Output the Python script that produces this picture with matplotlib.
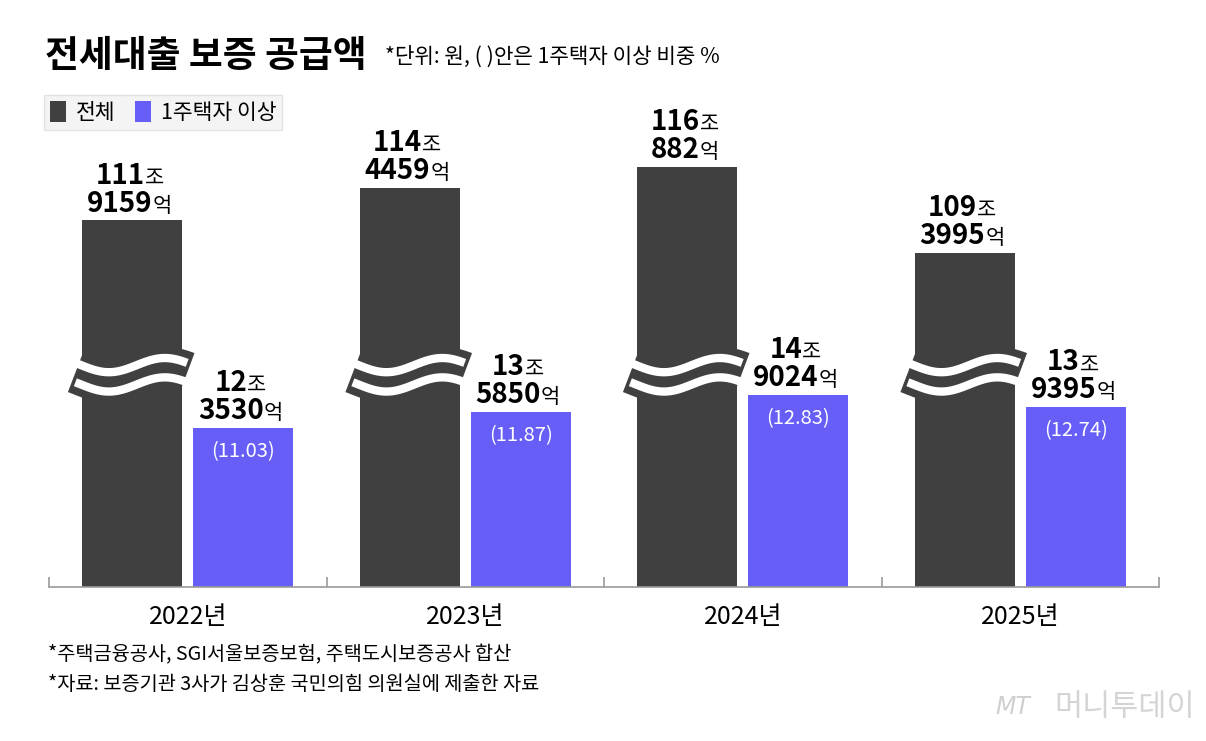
import matplotlib
matplotlib.use("Agg")
import matplotlib.pyplot as plt
from matplotlib.offsetbox import TextArea, HPacker, VPacker, AnnotationBbox
from matplotlib.patches import Patch
import numpy as np

# data (억원)
years = ["2022년", "2023년", "2024년", "2025년"]
total_eok = [1119159, 1144459, 1160882, 1093995]
multi_eok = [123530, 135850, 149024, 139395]
multi_share = [11.03, 11.87, 12.83, 12.74]

DARK = "#404040"
BLUE = "#665ef6"
KR = "Noto Sans CJK KR"

plt.rcParams["font.family"] = [KR, "DejaVu Sans"]

# broken y axis: squeeze the empty range between the two groups of values
A = 18.5
EPS = 0.01
B = A + 83.5 / (1 - EPS)


def fwd(v):
    v = np.asarray(v, dtype=float)
    return np.where(v <= A, v,
                    np.where(v < B, A + (v - A) * EPS, A + (B - A) * EPS + (v - B)))


def inv(u):
    u = np.asarray(u, dtype=float)
    top = A + (B - A) * EPS
    return np.where(u <= A, u,
                    np.where(u < top, A + (u - A) / EPS, B + (u - top)))


total = np.array(total_eok) / 10000
multi = np.array(multi_eok) / 10000
x = np.arange(len(years))
w = 0.36
off = 0.2

fig = plt.figure(figsize=(12.06, 7.41), dpi=100)
ax = fig.add_axes([49 / 1206, 154 / 741, 1110 / 1206, 487 / 741])
ax.set_yscale("function", functions=(fwd, inv))
ax.set_ylim(0, inv(37.75))
ax.set_xlim(-0.5, 3.5)

ax.bar(x - off, total, w, color=DARK, zorder=2)
ax.bar(x + off, multi, w, color=BLUE, zorder=2)

# wavy break marks on the dark bars
for xi in x - off:
    xs = np.linspace(xi - w / 2 - 0.025, xi + w / 2 + 0.018, 120)
    t = (xs - xs[0]) / (xs[-1] - xs[0])
    wave = -0.55 * np.sin(2 * np.pi * (t - 0.05))
    ax.plot(xs, 16.45 + wave, color=DARK, lw=30, solid_capstyle="butt", zorder=3)
    ax.plot(xs, 17.2 + wave, color="white", lw=6, solid_capstyle="butt", zorder=4)
    ax.plot(xs, 15.7 + wave, color="white", lw=6, solid_capstyle="butt", zorder=4)

num_style = dict(family=KR, fontsize=20, fontweight="bold", color="black")
unit_style = dict(family=KR, fontsize=15, color="black")


def value_label(xv, yv, eok):
    jo, rest = divmod(eok, 10000)
    line1 = HPacker(children=[TextArea(str(jo), textprops=num_style),
                              TextArea("조", textprops=unit_style)],
                    align="baseline", pad=0, sep=0)
    line2 = HPacker(children=[TextArea(str(rest), textprops=num_style),
                              TextArea("억", textprops=unit_style)],
                    align="baseline", pad=0, sep=0)
    box = VPacker(children=[line1, line2], align="center", pad=0, sep=0)
    ab = AnnotationBbox(box, (xv, yv), xybox=(-2, 2), xycoords="data",
                        boxcoords="offset points", box_alignment=(0.5, 0),
                        frameon=False, zorder=5)
    ax.add_artist(ab)


for i in range(len(years)):
    value_label(x[i] - off, total[i], total_eok[i])
    value_label(x[i] + off, multi[i], multi_eok[i])
    ax.annotate(f"({multi_share[i]:.2f})", (x[i] + off, multi[i]),
                xytext=(0, -17), textcoords="offset points",
                ha="center", va="center", color="white", fontsize=14.5, zorder=5)

# axis styling
for s in ["top", "right", "left"]:
    ax.spines[s].set_visible(False)
ax.spines["bottom"].set_color("#9a9a9a")
ax.spines["bottom"].set_linewidth(1.2)
ax.set_yticks([])
ax.set_xticks(x)
ax.set_xticklabels(years, fontsize=18)
ax.tick_params(axis="x", which="major", length=0, pad=12)
ax.set_xticks(np.arange(-0.5, 3.6, 1.0), minor=True)
ax.tick_params(axis="x", which="minor", direction="in", length=7,
               color="#9a9a9a", width=1.2)
ax.patch.set_alpha(0)

# titles
fig.text(45 / 1206, 1 - 57 / 741, "전세대출 보증 공급액", fontsize=26.5,
         fontweight="heavy", va="center", ha="left")
fig.text(385 / 1206, 1 - 58 / 741, "*단위: 원, ( )안은 1주택자 이상 비중 %",
         fontsize=15.3, va="center", ha="left")

handles = [Patch(facecolor=DARK, label="전체"), Patch(facecolor=BLUE, label="1주택자 이상")]
leg = fig.legend(handles=handles, loc="upper left", ncol=2,
                 bbox_to_anchor=(44 / 1206, 1 - 95 / 741), fontsize=15.5,
                 frameon=True, fancybox=False, handlelength=0.75, handleheight=1.1,
                 handletextpad=0.45, columnspacing=0.9, borderpad=0.28,
                 borderaxespad=0)
leg.get_frame().set_facecolor("#f2f2f2")
leg.get_frame().set_edgecolor("#dddddd")

fig.text(48 / 1206, 1 - 655 / 741, "*주택금융공사, SGI서울보증보험, 주택도시보증공사 합산",
         fontsize=14.2, va="center", ha="left")
fig.text(48 / 1206, 1 - 684 / 741, "*자료: 보증기관 3사가 김상훈 국민의힘 의원실에 제출한 자료",
         fontsize=14.2, va="center", ha="left")

# watermark
fig.text(995 / 1206, 1 - 707 / 741, "MT", fontsize=17, style="italic",
         color="#cfcfcf", family="DejaVu Sans", va="center", ha="left")
fig.text(1195 / 1206, 1 - 707 / 741, "머니투데이", fontsize=22, color="#d4d4d4",
         fontweight="light", va="center", ha="right")

fig.savefig("out.png", dpi=100, facecolor="white")
